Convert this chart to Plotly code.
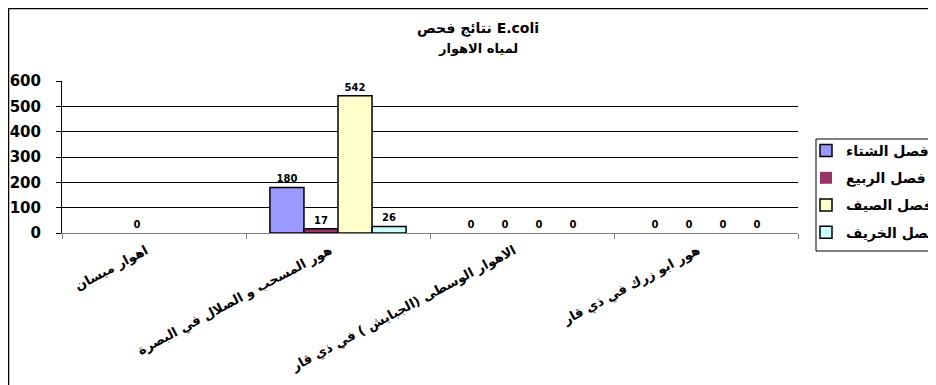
import plotly.graph_objects as go

categories = [
    "اهوار ميسان",
    "هور المسحب و الصلال في البصرة",
    "الاهوار الوسطى (الجبايش ) في ذي قار",
    "هور ابو زرك في ذي قار",
]
series_names = ["فصل الشتاء", "فصل الربيع", "فصل الصيف", "فصل الخريف"]
winter = [None, 180, 0, 0]
spring = [0, 17, 0, 0]
summer = [None, 542, 0, 0]
autumn = [None, 26, 0, 0]
colors = ["#9999FF", "#993366", "#FFFFCC", "#CCFFFF"]
y_ticks = [0, 100, 200, 300, 400, 500, 600]

FONT = "'DejaVu Sans', Arial, sans-serif"

fig = go.Figure()
for i, (name, vals, col) in enumerate(zip(series_names, [winter, spring, summer, autumn], colors)):
    fig.add_trace(go.Bar(
        x=categories, y=vals, name=name, legendgroup=f"g{i}",
        marker=dict(color=col,
                    line=dict(color="black", width=[(0 if v == 0 else 1.5) for v in vals])),
        text=[("" if v is None else str(v)) for v in vals],
        textposition="outside", cliponaxis=False,
        textfont=dict(family=FONT, size=10, color="black", weight="bold"),
    ))

# page has an 8px body margin: work in figure coordinates = page - 8
OFF = 8
W, H = 936 - OFF, 385 - OFF
L, R, T, B = 62 - OFF, 798 - OFF, 81 - OFF, 233 - OFF
pw, ph = R - L, B - T

def px(x):
    return (x - OFF - L) / pw

def py(y):
    return (B - (y - OFF)) / ph

fig.update_layout(
    width=W, height=H,
    margin=dict(l=L, r=W - R, t=T, b=H - B, pad=0, autoexpand=False),
    paper_bgcolor="white", plot_bgcolor="white",
    barmode="group", bargap=0.26, bargroupgap=0,
    font=dict(family=FONT, color="black"),
    showlegend=True,
    legend=dict(
        x=px(806), y=py(135), xanchor="left", yanchor="top",
        borderwidth=0, bgcolor="rgba(0,0,0,0)",
        font=dict(family=FONT, size=14, color="black", weight="bold"),
        tracegroupgap=6, itemwidth=30,
    ),
    xaxis=dict(
        type="category", tickangle=-28, automargin=False,
        tickfont=dict(family=FONT, size=13, color="black", weight="bold"),
        showline=True, linecolor="#808080", linewidth=1,
        ticks="outside", tickson="boundaries", ticklen=5, tickcolor="#808080",
        showgrid=False, ticklabelshift=-8, ticklabelstandoff=4,
    ),
    yaxis=dict(
        range=[0, 600], tickvals=y_ticks, automargin=False,
        tickfont=dict(family=FONT, size=15, color="black", weight="bold"),
        showline=True, linecolor="black", linewidth=1,
        ticks="outside", ticklen=5, tickcolor="black", ticklabelstandoff=12,
        showgrid=True, gridcolor="black", gridwidth=1,
        zeroline=False,
    ),
    annotations=[
        dict(text="نتائج فحص E.coli", x=px(478), y=py(28), xref="paper", yref="paper",
             xanchor="center", yanchor="middle",
             showarrow=False, font=dict(family=FONT, size=14, color="black", weight="bold")),
        dict(text="لمياه الاهوار", x=px(478), y=py(48), xref="paper", yref="paper",
             xanchor="center", yanchor="middle",
             showarrow=False, font=dict(family=FONT, size=13, color="black", weight="bold")),
    ],
    shapes=[
        dict(type="rect", xref="paper", yref="paper",
             x0=px(8.5), x1=px(950), y0=py(8.5), y1=py(400),
             line=dict(color="black", width=1.5), fillcolor="rgba(0,0,0,0)", layer="below"),
        dict(type="rect", xref="paper", yref="paper",
             x0=px(816), x1=px(950), y0=py(139), y1=py(251),
             line=dict(color="black", width=1), fillcolor="white", layer="below"),
    ],
)

fig.write_html("out.html")
